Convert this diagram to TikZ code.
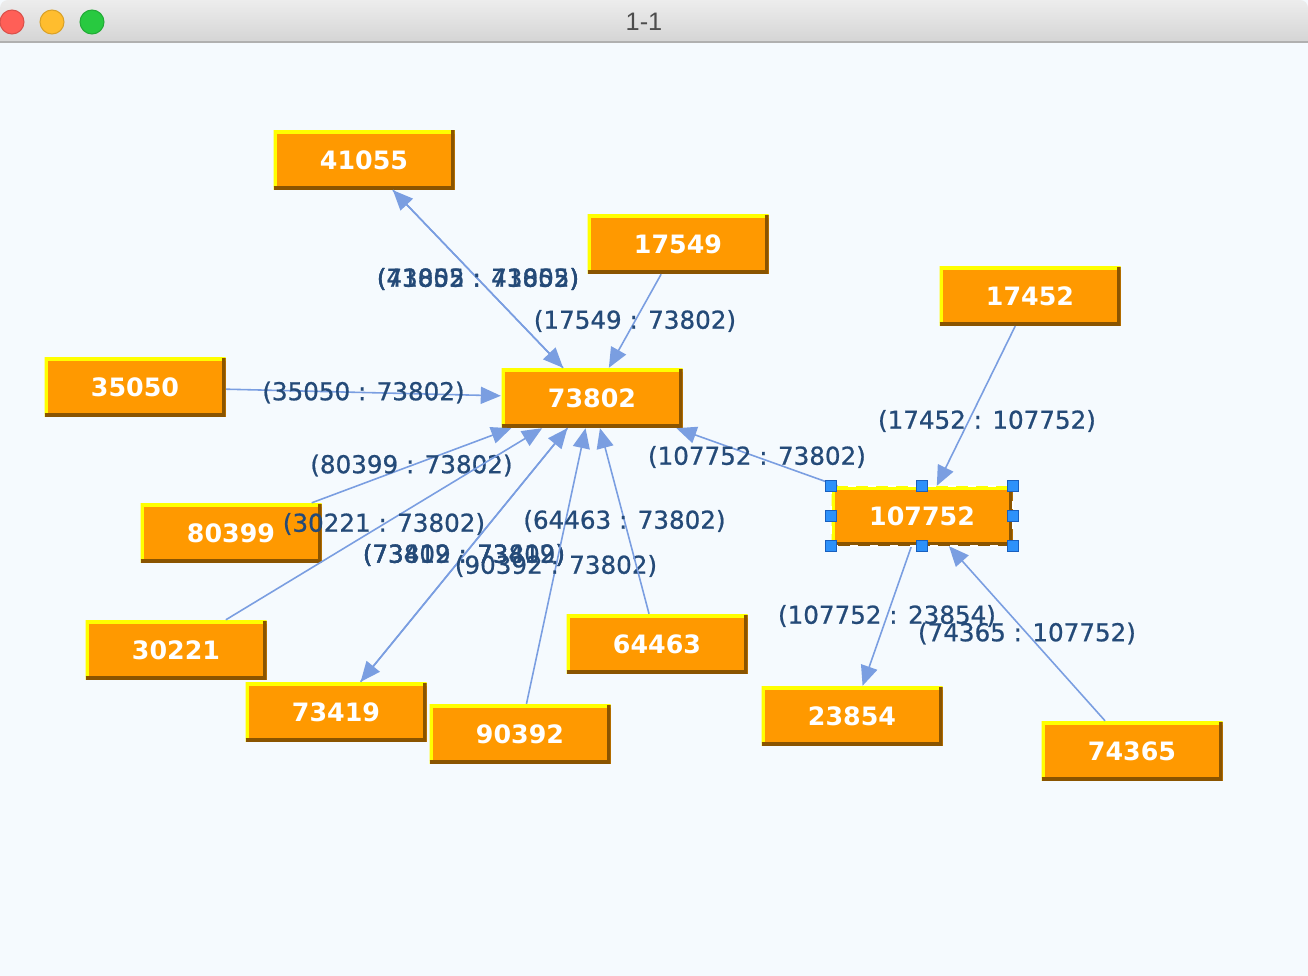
\documentclass[tikz,border=0pt]{standalone}
\usepackage{fontspec}
\setmainfont{DejaVu Sans}
\newfontfamily\titlefont{Liberation Sans}
\newfontfamily\labelfont[FakeBold=0.8]{DejaVu Sans}
\usepackage{tikz}
\usetikzlibrary{arrows.meta}
\definecolor{canvas}{RGB}{245,250,254}
\definecolor{bartop}{RGB}{237,237,237}
\definecolor{barbottom}{RGB}{212,212,212}
\definecolor{barline}{RGB}{176,176,176}
\definecolor{titlegray}{RGB}{77,77,77}
\definecolor{tlred}{RGB}{255,95,87}
\definecolor{tlyellow}{RGB}{255,189,46}
\definecolor{tlgreen}{RGB}{40,201,64}
\definecolor{boxorange}{RGB}{255,153,0}
\definecolor{boxlight}{RGB}{255,255,0}
\definecolor{boxdark}{RGB}{138,84,0}
\definecolor{edgeblue}{RGB}{122,158,225}
\definecolor{labelblue}{RGB}{36,74,120}
\definecolor{handleblue}{RGB}{45,145,250}
\definecolor{handledark}{RGB}{25,95,190}
\tikzset{
  box/.style={rectangle, fill=boxorange, text=white, minimum width=1.81cm, minimum height=0.59cm, inner sep=0pt,
    font=\fontsize{7.2}{8}\selectfont\bfseries,
    path picture={
      \draw[boxlight, line width=0.07cm] (path picture bounding box.south west) -- (path picture bounding box.north west) -- (path picture bounding box.north east);
      \draw[boxdark, line width=0.07cm] (path picture bounding box.south west) -- (path picture bounding box.south east) -- (path picture bounding box.north east);}},
  conn/.style={draw=edgeblue, line width=0.45pt, -{Triangle[length=0.2cm,width=0.17cm]}},
  elabel/.style={text=labelblue, font=\labelfont\fontsize{7}{8}\selectfont, inner sep=0pt},
  handle/.style={rectangle, fill=handleblue, draw=handledark, line width=0.3pt, minimum size=0.11cm, inner sep=0pt}
}
\begin{document}
\begin{tikzpicture}
\useasboundingbox (0,0) rectangle (13.08,-9.76);
\fill[canvas] (0,0) rectangle (13.08,-9.76);

% window bar
\shade[top color=bartop, bottom color=barbottom] (0,-0.43) [rounded corners=0.08cm] -- (0,0) -- (13.08,0) [sharp corners] -- (13.08,-0.43) -- cycle;
\draw[barline, line width=0.02cm] (0,-0.425) -- (13.08,-0.425);
\foreach \x/\c in {0.12/tlred, 0.52/tlyellow, 0.92/tlgreen}
  \draw[draw=\c!85!black, fill=\c, line width=0.3pt] (\x,-0.22) circle (0.12cm);
\node[text=titlegray, font=\titlefont\fontsize{7.2}{8}\selectfont] (title) at (6.44,-0.22) {1-1};

\node[box] (n41055) at (3.64,-1.60) {41055};
\node[box] (n17549) at (6.78,-2.44) {17549};
\node[box] (n17452) at (10.30,-2.96) {17452};
\node[box] (n35050) at (1.35,-3.87) {35050};
\node[box] (n73802) at (5.92,-3.98) {73802};
\node[box] (n80399) at (2.31,-5.33) {80399};
\node[box] (n107752) at (9.22,-5.16) {107752};
\node[box] (n30221) at (1.76,-6.50) {30221};
\node[box] (n64463) at (6.57,-6.44) {64463};
\node[box] (n73419) at (3.36,-7.12) {73419};
\node[box] (n90392) at (5.20,-7.34) {90392};
\node[box] (n23854) at (8.52,-7.16) {23854};
\node[box] (n74365) at (11.32,-7.51) {74365};

\draw[conn] (n73802) -- node[elabel] (l1) {(73802 : 41055)} (n41055);
\draw[conn] (n41055) -- node[elabel] (l2) {(41055 : 73802)} (n73802);
\draw[conn] (n17549) -- node[elabel] (l3) {(17549 : 73802)} (n73802);
\draw[conn] (n35050) -- node[elabel] (l4) {(35050 : 73802)} (n73802);
\draw[conn] (n80399) -- node[elabel] (l5) {(80399 : 73802)} (n73802);
\draw[conn] (n30221) -- node[elabel] (l6) {(30221 : 73802)} (n73802);
\draw[conn] (n73802) -- node[elabel] (l7) {(73802 : 73419)} (n73419);
\draw[conn] (n73419) -- node[elabel] (l8) {(73419 : 73802)} (n73802);
\draw[conn] (n90392) -- node[elabel] (l9) {(90392 : 73802)} (n73802);
\draw[conn] (n64463) -- node[elabel] (l10) {(64463 : 73802)} (n73802);
\draw[conn] (n107752) -- node[elabel] (l11) {(107752 : 73802)} (n73802);
\draw[conn] (n17452) -- node[elabel, xshift=0.11cm, yshift=-0.15cm] (l12) {(17452 : 107752)} (n107752);
\draw[conn] (n107752) -- node[elabel] (l13) {(107752 : 23854)} (n23854);
\draw[conn] (n74365) -- node[elabel] (l14) {(74365 : 107752)} (n107752);

% selection
\draw[white, line width=0.025cm, dash pattern=on 0.08cm off 0.12cm] (n107752.north west) rectangle (n107752.south east);
\foreach \a [count=\i] in {north west,north,north east,west,east,south west,south,south east}
  \node[handle] (h\i) at (n107752.\a) {};
\end{tikzpicture}
\end{document}
